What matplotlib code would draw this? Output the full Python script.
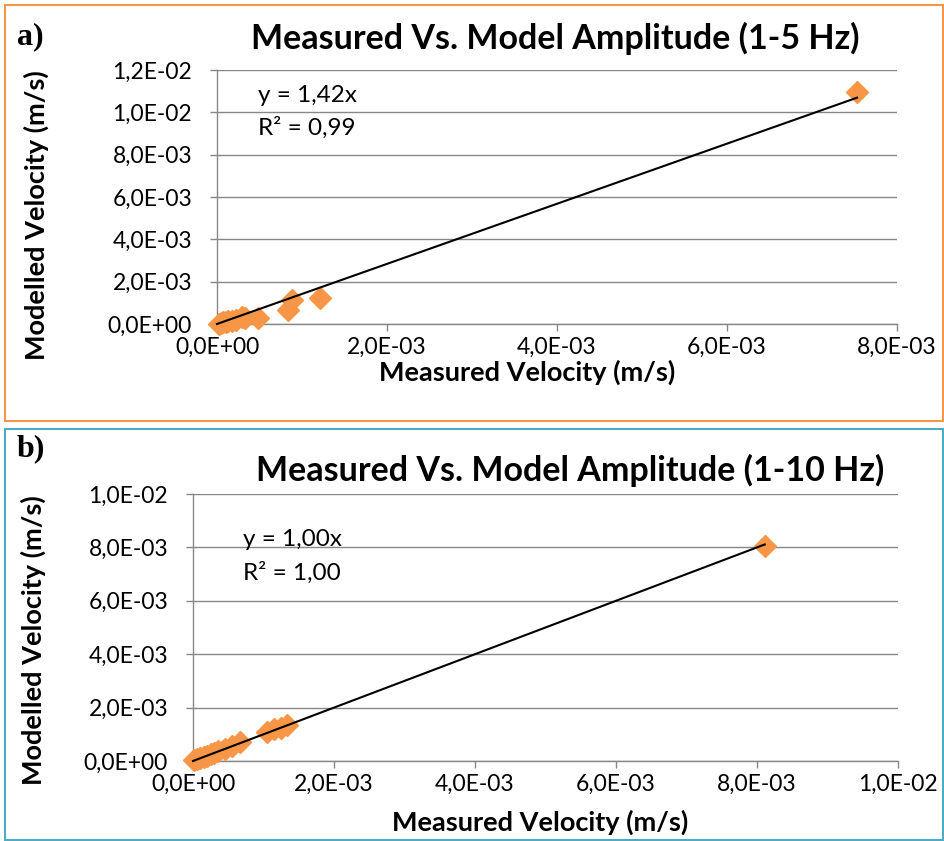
import matplotlib
matplotlib.use("Agg")
import matplotlib.pyplot as plt
from matplotlib.patches import Rectangle
from matplotlib.ticker import FuncFormatter, MultipleLocator

plt.rcParams['font.family'] = ['Lato', 'DejaVu Sans']

# ---- data (m/s) ----
meas_a = [0.00002, 0.00005, 0.00007, 0.00010, 0.00013, 0.00018, 0.00022, 0.00029, 0.00033,
          0.00048, 0.00084, 0.00088, 0.00121, 0.00753]
model_a = [0.00001, 0.00004, 0.00010, 0.00008, 0.00012, 0.00014, 0.00020, 0.00033, 0.00026,
           0.00028, 0.00066, 0.00113, 0.00123, 0.01094]
slope_a = 1.42
eq_a = ["y = 1,42x", "R² = 0,99"]
title_a = "Measured Vs. Model Amplitude (1-5 Hz)"

meas_b = [0.00002, 0.00005, 0.00010, 0.00015, 0.00020, 0.00025, 0.00030, 0.00035, 0.00045,
          0.00055, 0.00067, 0.00105, 0.00115, 0.00125, 0.00133, 0.00811]
model_b = [0.00002, 0.00006, 0.00010, 0.00016, 0.00020, 0.00026, 0.00030, 0.00037, 0.00045,
           0.00055, 0.00070, 0.00110, 0.00118, 0.00125, 0.00135, 0.00805]
slope_b = 1.00
eq_b = ["y = 1,00x", "R² = 1,00"]
title_b = "Measured Vs. Model Amplitude (1-10 Hz)"

xlabel = "Measured Velocity (m/s)"
ylabel = "Modelled Velocity (m/s)"

W, H = 944, 841
fig = plt.figure(figsize=(W / 100, H / 100), dpi=100)

def fx(px):
    return px / W

def fy(py):
    return 1 - py / H

def add_axes(l, t, r, b):
    return fig.add_axes([fx(l), fy(b), fx(r) - fx(l), fy(t) - fy(b)])

ORANGE = '#F79646'
BLUE = '#4BACC6'
GRID = '#878787'

fig.patches.append(Rectangle((fx(5), fy(421)), fx(943) - fx(5), fy(5) - fy(421),
                             transform=fig.transFigure, fill=False, ec=ORANGE, lw=1.5))
fig.patches.append(Rectangle((fx(5), fy(840)), fx(943) - fx(5), fy(429) - fy(840),
                             transform=fig.transFigure, fill=False, ec=BLUE, lw=1.5))

fmt = FuncFormatter(lambda v, p: f"{v:.1E}".replace('.', ','))

def style(ax, xmax, ymax):
    ax.set_xlim(0, xmax)
    ax.set_ylim(0, ymax)
    ax.xaxis.set_major_locator(MultipleLocator(0.002))
    ax.yaxis.set_major_locator(MultipleLocator(0.002))
    ax.xaxis.set_major_formatter(fmt)
    ax.yaxis.set_major_formatter(fmt)
    for s in ['top', 'right']:
        ax.spines[s].set_visible(False)
    for s in ['left', 'bottom']:
        ax.spines[s].set_color(GRID)
        ax.spines[s].set_linewidth(1.0)
    ax.grid(axis='y', color=GRID, lw=1.0)
    ax.set_axisbelow(True)
    ax.tick_params(direction='out', length=5, width=1.0, color=GRID, labelsize=16.5,
                   labelcolor='black')
    ax.tick_params(axis='x', pad=4)
    ax.tick_params(axis='y', pad=13)

def panel(ax, mx, my, slope, xmax, ymax):
    style(ax, xmax, ymax)
    ax.plot(mx, my, linestyle='none', marker='D', ms=11, color=ORANGE, mec=ORANGE,
            clip_on=False, zorder=3)
    xe = max(mx)
    ax.plot([0, xe], [0, slope * xe], color='black', lw=1.5, zorder=4, clip_on=False)

ax_a = add_axes(217, 70, 897, 324)
panel(ax_a, meas_a, model_a, slope_a, 0.008, 0.012)
ax_b = add_axes(193, 494, 898, 761)
panel(ax_b, meas_b, model_b, slope_b, 0.010, 0.010)

tb = dict(fontweight='bold', color='black')
fig.text(fx(555), fy(38), title_a, ha='center', va='center', fontsize=24.5, **tb)
fig.text(fx(570), fy(470), title_b, ha='center', va='center', fontsize=24.5, **tb)
fig.text(fx(527), fy(372), xlabel, ha='center', va='center', fontsize=19.5, **tb)
fig.text(fx(540), fy(822), xlabel, ha='center', va='center', fontsize=19.5, **tb)
fig.text(fx(36), fy(215), ylabel, ha='center', va='center', rotation=90, fontsize=19.5, **tb)
fig.text(fx(33), fy(640), ylabel, ha='center', va='center', rotation=90, fontsize=19.5, **tb)
fig.text(fx(17), fy(37), "a)", ha='left', va='center', fontsize=23, family='Liberation Serif', **tb)
fig.text(fx(17), fy(449), "b)", ha='left', va='center', fontsize=23, family='Liberation Serif', **tb)

fig.text(fx(258), fy(96), eq_a[0], ha='left', va='center', fontsize=17.5)
fig.text(fx(258), fy(128), eq_a[1], ha='left', va='center', fontsize=17.5)
fig.text(fx(243), fy(540), eq_b[0], ha='left', va='center', fontsize=17.5)
fig.text(fx(243), fy(573), eq_b[1], ha='left', va='center', fontsize=17.5)

fig.savefig("out.png", dpi=100)
